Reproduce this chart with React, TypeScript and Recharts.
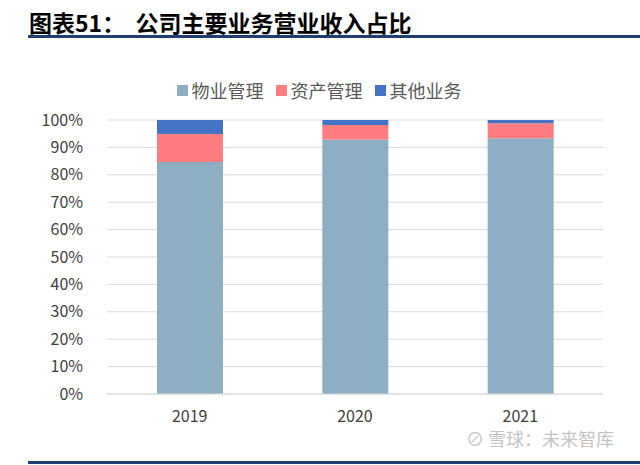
import { BarChart, Bar, XAxis, YAxis, CartesianGrid, Legend } from 'recharts';

const years = ['2019', '2020', '2021'];
const propertyMgmt = [0.847, 0.929, 0.933];
const assetMgmt = [0.102, 0.053, 0.055];
const otherBiz = [0.051, 0.018, 0.012];
const yTicks = [0, 0.1, 0.2, 0.3, 0.4, 0.5, 0.6, 0.7, 0.8, 0.9, 1];

const seriesNames = ['物业管理', '资产管理', '其他业务'];
const seriesKeys = ['property', 'asset', 'other'];
const seriesColors = ['#8EAEC4', '#FF7C80', '#4472C4'];

const data = years.map((year, i) => ({
  year,
  property: propertyMgmt[i],
  asset: assetMgmt[i],
  other: otherBiz[i],
}));

const font = '"Noto Sans CJK SC", "Noto Sans", sans-serif';

const LegendContent = () => (
  <div style={{ display: 'flex', justifyContent: 'center', height: 24, alignItems: 'center' }}>
    {seriesNames.map((name, i) => (
      <div key={name} style={{ display: 'flex', alignItems: 'center', marginRight: 12 }}>
        <span style={{ display: 'inline-block', width: 11, height: 11, background: seriesColors[i], marginRight: 4 }} />
        <span style={{ color: '#595959', fontSize: 18, lineHeight: '24px' }}>{name}</span>
      </div>
    ))}
  </div>
);

const App = () => {
  return (
    <div style={{ position: 'absolute', left: 0, top: 0, width: 640, height: 465, background: '#fff', overflow: 'hidden' }}>
      <div
        style={{
          position: 'absolute',
          left: 29,
          top: 8,
          fontFamily: '"Noto Sans CJK SC", sans-serif',
          fontWeight: 700,
          fontSize: 23,
          color: '#000',
          whiteSpace: 'pre',
          lineHeight: '28px',
        }}
      >
        {'图表51：  公司主要业务营业收入占比'}
      </div>
      <div style={{ position: 'absolute', left: 28, top: 35, width: 612, height: 3, background: '#1F3F73' }} />
      <div style={{ position: 'absolute', left: 28, top: 461, width: 612, height: 3, background: '#1F3F73' }} />

      <BarChart
        width={640}
        height={465}
        data={data}
        margin={{ top: 96, right: 37, left: 47, bottom: 41 }}
        barSize={66}
        style={{ position: 'absolute', left: 0, top: 0, fontFamily: font }}
      >
        <CartesianGrid vertical={false} stroke="#D9D9D9" />
        <XAxis
          dataKey="year"
          height={30}
          tickLine={false}
          axisLine={{ stroke: '#D9D9D9' }}
          tick={{ fill: '#404040', fontSize: 16 }}
          tickMargin={11}
        />
        <YAxis
          width={60}
          domain={[0, 1]}
          ticks={yTicks}
          tickFormatter={(v: number) => `${Math.round(v * 100)}%`}
          axisLine={false}
          tickLine={false}
          tick={{ fill: '#404040', fontSize: 16 }}
          tickMargin={18}
        />
        <Legend
          verticalAlign="top"
          content={<LegendContent />}
          wrapperStyle={{ top: 78, left: 5, width: 640 }}
        />
        {seriesKeys.map((key, i) => (
          <Bar
            key={key}
            dataKey={key}
            name={seriesNames[i]}
            stackId="a"
            fill={seriesColors[i]}
            isAnimationActive={false}
          />
        ))}
      </BarChart>

      <div
        style={{
          position: 'absolute',
          left: 466,
          top: 430,
          fontFamily: '"Noto Sans CJK SC", sans-serif',
          fontSize: 18,
          lineHeight: '16px',
          color: '#C4C4C4',
          whiteSpace: 'pre',
        }}
      >
        {'⊘ 雪球：未来智库'}
      </div>
    </div>
  );
};

export default App;
